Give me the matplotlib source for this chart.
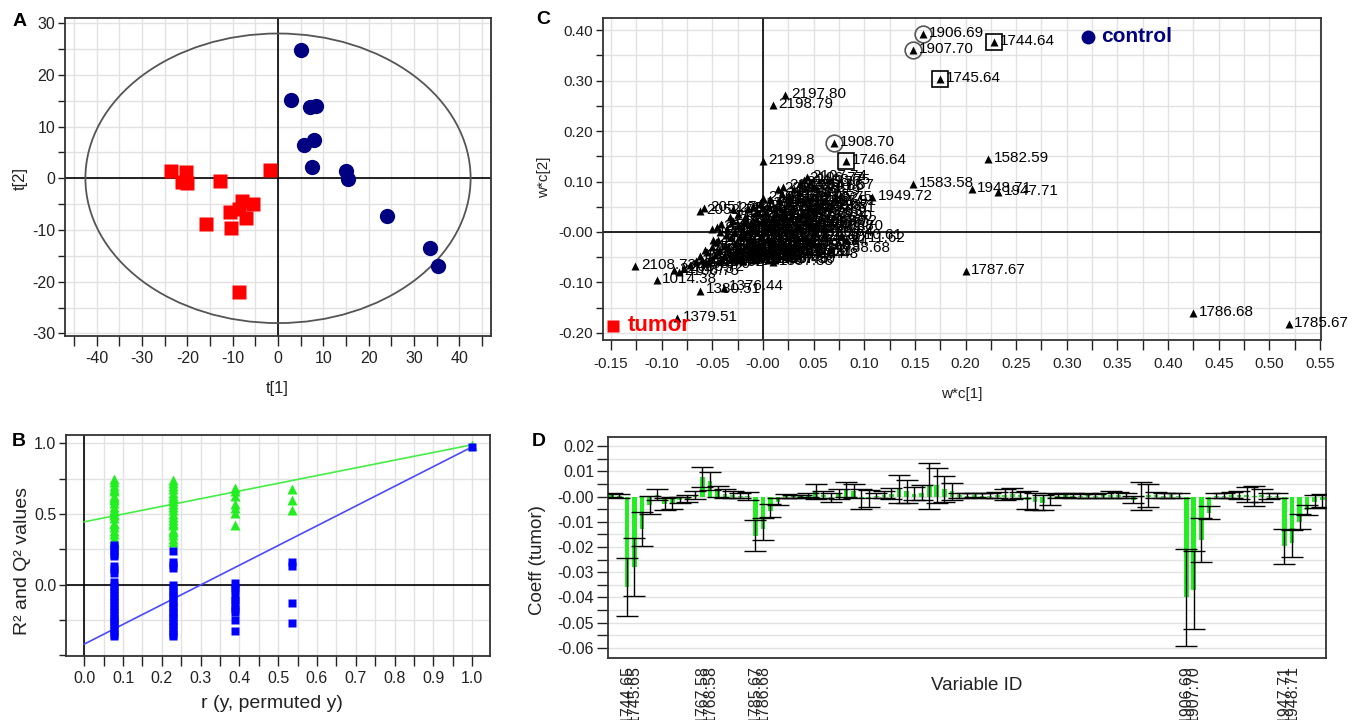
import numpy as np
import matplotlib.pyplot as plt
from matplotlib.patches import Ellipse
from matplotlib.ticker import MultipleLocator, FixedLocator, FuncFormatter

plt.rcParams['font.family'] = ['Liberation Sans', 'DejaVu Sans']
plt.rcParams['axes.unicode_minus'] = False

W, H = 1352, 720

# ---- A: PCA score plot
tumor_t1 = [-23.6, -20.2, -21.2, -20.0, -12.9, -1.8, -15.9, -10.3, -10.6, -7.9, -5.6, -7.1, -8.5, -8.5]
tumor_t2 = [1.4, 1.3, -0.8, -1.0, -0.5, 1.7, -8.8, -9.7, -6.5, -4.3, -5.0, -7.6, -5.9, -21.9]
control_t1 = [5.0, 2.9, 7.0, 8.4, 5.8, 7.9, 7.5, 15.1, 15.5, 24.1, 33.5, 35.4]
control_t2 = [24.8, 15.1, 13.7, 14.0, 6.5, 7.5, 2.2, 1.5, -0.1, -7.2, -13.4, -17.0]
hotelling_t1, hotelling_t2 = 42.5, 28.0

# ---- B: permutation test
perm_r = [0.077, 0.229, 0.388, 0.536, 1.0]
r2_groups = [
    [0.30, 0.31, 0.33, 0.36, 0.38, 0.41, 0.43, 0.44, 0.47, 0.49, 0.50, 0.52,
     0.53, 0.55, 0.58, 0.60, 0.61, 0.63, 0.66, 0.68, 0.70, 0.73, 0.75],
    [0.30, 0.32, 0.35, 0.37, 0.39, 0.42, 0.44, 0.46, 0.48, 0.50, 0.53, 0.55,
     0.57, 0.59, 0.61, 0.63, 0.65, 0.68, 0.70, 0.72, 0.74],
    [0.685, 0.66, 0.625, 0.57, 0.545, 0.51, 0.42],
    [0.675, 0.60, 0.53],
    [0.99],
]
q2_groups = [
    [0.28, 0.26, 0.24, 0.22, 0.20, 0.13, 0.11, 0.08, 0.02, -0.01, -0.03, -0.05,
     -0.08, -0.10, -0.12, -0.15, -0.17, -0.19, -0.22, -0.24, -0.26, -0.28, -0.30,
     -0.33, -0.35, -0.36],
    [0.24, 0.16, 0.14, 0.12, 0.00, -0.02, -0.05, -0.07, -0.09, -0.12, -0.14,
     -0.16, -0.19, -0.21, -0.23, -0.26, -0.28, -0.30, -0.33, -0.35, -0.36],
    [0.01, -0.02, -0.04, -0.09, -0.11, -0.14, -0.17, -0.19, -0.25, -0.33],
    [0.16, 0.13, -0.13, -0.27],
    [0.975],
]
r2_line = [0.445, 0.99]   # intercept at r=0, value at r=1
q2_line = [-0.42, 0.975]

# ---- C: loadings w*c
lab_names = ["1906.69", "1907.70", "1744.64", "1745.64", "1908.70", "1746.64",
             "2197.80", "2198.79", "2199.8", "1582.59", "1583.58", "1948.71",
             "1947.71", "1949.72", "1787.67", "1786.68", "1785.67", "1788.68",
             "2051.71", "2052.71", "2108.73", "1014.38", "1380.51", "1376.44",
             "1379.51"]
lab_x = [0.158, 0.148, 0.228, 0.175, 0.070, 0.082, 0.022, 0.010, 0.000, 0.222,
         0.148, 0.206, 0.232, 0.108, 0.200, 0.425, 0.519, 0.066, -0.058, -0.062,
         -0.126, -0.105, -0.062, -0.039, -0.085]
lab_y = [0.392, 0.360, 0.377, 0.303, 0.176, 0.140, 0.272, 0.252, 0.140, 0.145,
         0.095, 0.085, 0.080, 0.070, -0.077, -0.161, -0.183, -0.034, 0.047, 0.041,
         -0.068, -0.095, -0.116, -0.110, -0.171]
circled = ["1906.69", "1907.70", "1908.70"]
boxed = ["1744.64", "1745.64", "1746.64"]

cloud_x = [-0.088, -0.083, -0.078, -0.072, -0.066, -0.062, -0.058, -0.055, -0.052, -0.050,
           -0.047, -0.045, -0.044, -0.042, -0.040, -0.038, -0.036, -0.034, -0.032, -0.030,
           -0.028, -0.026, -0.024, -0.022, -0.020, -0.018, -0.016, -0.014, -0.012, -0.010,
           -0.008, -0.006, -0.004, -0.002, 0.000, 0.000, 0.002, 0.004, 0.006, 0.008,
           0.010, 0.012, 0.014, 0.016, 0.018, 0.020, 0.022, 0.024, 0.026, 0.028,
           0.030, 0.032, 0.034, 0.036, 0.038, 0.040, 0.042, 0.044, 0.046, 0.048,
           0.050, 0.052, 0.054, 0.045, 0.078, 0.082, -0.020, -0.010, 0.005, 0.015,
           0.025, 0.037, 0.040, 0.043, 0.046, -0.030, 0.010, -0.050, 0.060, 0.035,
           -0.046, -0.043, -0.041, -0.039, -0.037, -0.035, -0.033, -0.031, -0.029, -0.027,
           -0.025, -0.023, -0.021, -0.019, -0.017, -0.015, -0.013, -0.011, -0.009, -0.007,
           -0.005, -0.003, -0.001, 0.001, 0.003, 0.005, 0.007, 0.009, 0.011, 0.013,
           0.015, 0.017, 0.019, 0.021, 0.023, 0.025, 0.027, 0.029, 0.031, 0.033,
           0.035, 0.037, 0.039, 0.041, 0.043, 0.045, 0.047, 0.049, 0.051, 0.053,
           -0.060, -0.057, -0.054, -0.049, 0.000, 0.012, -0.024, 0.030, 0.020, 0.050]
cloud_y = [-0.075, -0.080, -0.072, -0.065, -0.058, -0.048, -0.062, -0.040, -0.052, -0.030,
           -0.045, 0.010, -0.015, 0.000, -0.055, -0.025, 0.005, -0.040, -0.010, 0.022,
           -0.050, -0.020, 0.012, -0.035, -0.005, 0.030, -0.045, -0.015, 0.018, -0.030,
           0.002, 0.040, -0.050, -0.012, 0.025, 0.068, -0.035, 0.008, 0.050, -0.022,
           0.030, -0.045, 0.000, 0.062, -0.012, 0.040, -0.030, 0.015, 0.072, -0.005,
           0.050, -0.020, 0.025, 0.080, 0.005, 0.060, -0.012, 0.035, 0.015, 0.068,
           -0.002, 0.045, 0.020, 0.052, -0.008, -0.015, -0.058, 0.052, -0.055, 0.085,
           -0.040, 0.097, 0.104, 0.108, 0.100, 0.045, -0.060, 0.005, 0.010, -0.045,
           -0.020, -0.035, 0.015, -0.048, -0.005, -0.030, 0.030, -0.052, 0.000, -0.038,
           0.035, -0.010, -0.048, 0.020, -0.025, 0.045, -0.040, 0.005, -0.055, 0.025,
           -0.025, 0.055, -0.040, 0.010, 0.040, -0.015, 0.065, -0.040, 0.015, 0.050,
           -0.025, 0.030, 0.075, -0.045, 0.005, 0.058, -0.028, 0.035, 0.085, 0.010,
           0.065, -0.030, 0.040, 0.088, 0.020, -0.020, 0.050, 0.030, 0.010, 0.060,
           -0.055, -0.035, -0.060, -0.015, -0.050, -0.055, -0.055, -0.040, 0.090, 0.090]
cloud_names = ["2104.73", "2106.75", "2056.72", "2058.70", "1112.37", "1126.41", "1204.52", "1218.55", "1232.47", "1290.60",
               "1304.58", "2003.71", "1342.49", "2006.72", "1360.55", "1400.63", "2020.70", "1414.58", "1428.61", "2034.73",
               "1456.52", "1470.66", "2045.69", "1484.61", "1498.57", "2064.70", "1512.63", "1526.60", "2078.75", "1540.58",
               "1554.66", "2302.74", "1568.49", "1596.55", "2301.73", "2300.72", "1610.62", "1624.59", "2122.76", "1638.53",
               "2136.71", "1652.60", "1666.57", "2150.74", "1680.64", "2164.77", "1694.58", "1708.61", "2178.75", "1722.55",
               "2185.78", "1736.60", "1750.66", "2190.79", "1764.63", "2104.74", "1778.60", "1792.62", "1806.70", "2105.75",
               "1820.64", "1834.61", "1848.72", "1862.67", "1710.61", "1711.62", "1376.48", "2310.76", "1290.46", "2288.73",
               "1402.50", "2105.76", "2106.77", "2107.74", "2108.75", "2054.71", "1357.38", "1918.68", "1932.70", "1414.48",
               "1105.39", "1119.42", "1133.45", "1147.40", "1161.43", "1175.46", "1189.44", "1203.47", "1217.50", "1231.48",
               "1245.51", "1259.54", "1273.49", "1287.52", "1301.55", "1315.53", "1329.56", "1343.59", "1357.57", "1371.60",
               "1385.63", "1399.61", "1413.64", "1427.67", "1441.65", "1455.68", "1469.71", "1483.66", "1497.69", "1511.72",
               "1525.70", "1539.73", "1553.76", "1567.74", "1581.77", "1595.80", "1609.75", "1623.78", "1637.81", "1651.79",
               "1665.82", "1679.85", "1693.83", "1707.86", "1721.89", "1735.84", "1749.87", "1763.90", "1777.88", "1791.91",
               "2007.40", "2021.43", "2035.46", "2049.44", "2063.47", "2077.50", "2091.48", "2119.51", "2133.54", "2147.57"]

# ---- D: PLS coefficients, tumor
coef = [0.0005, 0.0003, -0.0358, -0.0280, -0.0128, -0.0033, 0.0008, -0.0030, -0.0025, -0.0012,
        -0.0008, 0.0005, 0.0078, 0.0062, 0.0020, 0.0012, 0.0008, 0.0004, 0.0003, -0.0155,
        -0.0128, -0.0056, -0.0020, 0.0003, 0.0002, 0.0002, 0.0005, 0.0020, 0.0008, -0.0005,
        0.0010, 0.0028, 0.0022, -0.0010, -0.0008, 0.0003, 0.0008, 0.0012, 0.0030, 0.0020,
        0.0012, 0.0015, 0.0042, 0.0044, 0.0030, 0.0020, 0.0006, 0.0004, 0.0005, 0.0003,
        0.0004, 0.0006, 0.0008, 0.0012, 0.0005, -0.0015, -0.0020, -0.0025, -0.0010, 0.0003,
        0.0005, 0.0004, 0.0003, 0.0006, 0.0004, 0.0005, 0.0008, 0.0006, 0.0004, -0.0012,
        0.0003, 0.0005, 0.0005, 0.0004, 0.0006, 0.0003, -0.0400, -0.0370, -0.0173, -0.0064,
        0.0003, 0.0004, 0.0006, 0.0005, 0.0008, 0.0002, 0.0005, 0.0004, 0.0003, -0.0197,
        -0.0186, -0.0100, -0.0054, -0.0020, -0.0015]
coef_err = [0.0008, 0.0008, 0.0115, 0.0116, 0.0067, 0.0037, 0.0020, 0.0025, 0.0025, 0.0012,
            0.0015, 0.0015, 0.0040, 0.0035, 0.0020, 0.0018, 0.0012, 0.0010, 0.0015, 0.0062,
            0.0043, 0.0025, 0.0015, 0.0008, 0.0006, 0.0006, 0.0008, 0.0030, 0.0015, 0.0018,
            0.0020, 0.0030, 0.0028, 0.0040, 0.0035, 0.0010, 0.0015, 0.0022, 0.0055, 0.0045,
            0.0025, 0.0030, 0.0092, 0.0070, 0.0050, 0.0035, 0.0010, 0.0010, 0.0008, 0.0010,
            0.0010, 0.0012, 0.0020, 0.0020, 0.0012, 0.0035, 0.0035, 0.0030, 0.0025, 0.0008,
            0.0008, 0.0010, 0.0008, 0.0010, 0.0008, 0.0010, 0.0012, 0.0012, 0.0010, 0.0015,
            0.0055, 0.0045, 0.0012, 0.0010, 0.0010, 0.0010, 0.0194, 0.0155, 0.0087, 0.0026,
            0.0010, 0.0010, 0.0012, 0.0015, 0.0030, 0.0040, 0.0025, 0.0012, 0.0010, 0.0070,
            0.0053, 0.0030, 0.0020, 0.0025, 0.0025]
var_tick_idx = [2, 3, 12, 13, 19, 20, 76, 77, 89, 90]
var_tick_ids = ["1744.65", "1745.65", "1767.58", "1768.58", "1785.67", "1786.68",
                "1906.69", "1907.70", "1947.71", "1948.71"]

GRID = '#e2e2e2'
FRAME = '#333333'


def add_axes_px(fig, left, top, right, bottom):
    return fig.add_axes([left / W, 1 - bottom / H, (right - left) / W, (bottom - top) / H])


def style(ax):
    for s in ax.spines.values():
        s.set_linewidth(1.3)
        s.set_color(FRAME)
    ax.tick_params(which='both', direction='out', length=5, width=1, colors='#222222',
                   labelsize=11.5, pad=2)
    ax.set_axisbelow(True)


def fig_text(fig, x, y, s, **kw):
    fig.text(x / W, 1 - y / H, s, ha='center', va='center', color='#222222', **kw)


zero_fmt = FuncFormatter(lambda v, _: '-0.00' if abs(v) < 1e-9 else f'{v:.2f}')

fig = plt.figure(figsize=(W / 100, H / 100), dpi=100)

# ---------------- A
axA = add_axes_px(fig, 65, 18, 491, 336)
style(axA)
axA.set_xlim(-47, 47)
axA.set_ylim(-30.5, 31)
axA.xaxis.set_major_locator(MultipleLocator(10))
axA.xaxis.set_minor_locator(MultipleLocator(5))
axA.yaxis.set_major_locator(MultipleLocator(10))
axA.yaxis.set_minor_locator(MultipleLocator(5))
axA.tick_params(axis='x', which='both', length=7, pad=4)
axA.grid(True, which='both', color=GRID, lw=1)
axA.axhline(0, color='black', lw=1.2, zorder=1)
axA.axvline(0, color='black', lw=1.2, zorder=1)
axA.add_patch(Ellipse((0, 0), 2 * hotelling_t1, 2 * hotelling_t2, fill=False,
                      ec='#555555', lw=1.3, zorder=2))
axA.plot(tumor_t1, tumor_t2, 's', color='#ff0000', ms=10.5, mec='none', zorder=3)
axA.plot(control_t1, control_t2, 'o', color='#000080', ms=11, mec='none', zorder=3)
fig_text(fig, 277, 388, 't[1]', fontsize=12)
fig_text(fig, 20, 179, 't[2]', fontsize=12, rotation=90)
fig.text(13 / W, 1 - 22 / H, 'A', fontsize=14, fontweight='bold', va='center')

# ---------------- B
axB = add_axes_px(fig, 66, 435, 490, 656)
style(axB)
axB.set_xlim(-0.047, 1.046)
axB.set_ylim(-0.504, 1.059)
axB.xaxis.set_major_locator(MultipleLocator(0.1))
axB.xaxis.set_minor_locator(MultipleLocator(0.05))
axB.yaxis.set_major_locator(FixedLocator([0.0, 0.5, 1.0]))
axB.yaxis.set_minor_locator(MultipleLocator(0.25))
axB.xaxis.set_major_formatter(FuncFormatter(lambda v, _: f'{v:.1f}'))
axB.yaxis.set_major_formatter(FuncFormatter(lambda v, _: f'{v:.1f}'))
axB.tick_params(axis='x', which='both', length=7, pad=4)
axB.grid(True, which='both', color=GRID, lw=1)
axB.axhline(0, color='black', lw=1.2, zorder=1)
axB.axvline(0, color='black', lw=1.2, zorder=1)
axB.plot([0, 1], r2_line, color='#44ee44', lw=1.2, zorder=2)
axB.plot([0, 1], q2_line, color='#4a4aff', lw=1.2, zorder=2)
for r, vals in zip(perm_r, r2_groups):
    axB.plot(np.full(len(vals), r), vals, '^', color='#22ee22', ms=6.5, mec='none', zorder=3)
for r, vals in zip(perm_r, q2_groups):
    axB.plot(np.full(len(vals), r), vals, 's', color='#0000ff', ms=6, mec='none', zorder=3)
fig_text(fig, 272, 703, 'r (y, permuted y)', fontsize=14)
fig_text(fig, 23, 561, 'R² and Q² values', fontsize=14, rotation=90)
fig.text(12 / W, 1 - 441 / H, 'B', fontsize=14, fontweight='bold', va='center')

# ---------------- C
axC = add_axes_px(fig, 603, 18, 1321, 340)
style(axC)
axC.set_xlim(-0.158, 0.551)
axC.set_ylim(-0.214, 0.424)
axC.xaxis.set_major_locator(MultipleLocator(0.05))
axC.xaxis.set_minor_locator(MultipleLocator(0.025))
axC.yaxis.set_major_locator(MultipleLocator(0.1))
axC.yaxis.set_minor_locator(MultipleLocator(0.05))
axC.xaxis.set_major_formatter(zero_fmt)
axC.yaxis.set_major_formatter(zero_fmt)
axC.tick_params(axis='x', which='both', length=7, pad=5)
axC.tick_params(axis='x', labelsize=11)
axC.tick_params(axis='y', labelsize=11)
axC.grid(True, which='both', color=GRID, lw=1)
axC.axhline(0, color='black', lw=1.2, zorder=1)
axC.axvline(0, color='black', lw=1.2, zorder=1)

for x, y, name in zip(cloud_x + lab_x, cloud_y + lab_y, cloud_names + lab_names):
    axC.plot(x, y, '^', color='black', ms=5.5, mec='none', zorder=3)
    axC.annotate(name, (x, y), xytext=(4, 0.8), textcoords='offset points',
                 fontsize=11, va='center', ha='left', zorder=4, annotation_clip=False)
    if name in circled:
        axC.plot(x, y, 'o', mfc='none', mec='#555555', ms=12, mew=1.2, zorder=3)
    if name in boxed:
        axC.plot(x, y, 's', mfc='none', mec='black', ms=11, mew=1.2, zorder=3)

axC.plot([0.6755], [0.941], 'o', color='#000080', ms=10, mec='none', transform=axC.transAxes)
axC.text(0.694, 0.943, 'control', transform=axC.transAxes, color='#000080',
         fontsize=15, fontweight='bold', va='center', ha='left')
axC.plot([0.0139], [0.0435], 's', color='#ff0000', ms=9, mec='none', transform=axC.transAxes,
         zorder=5)
axC.text(0.034, 0.045, 'tumor', transform=axC.transAxes, color='#ff0000',
         fontsize=16, fontweight='bold', va='center', ha='left', zorder=5)
fig_text(fig, 962, 394, 'w*c[1]', fontsize=11)
fig_text(fig, 544, 177, 'w*c[2]', fontsize=11, rotation=90)
fig.text(536 / W, 1 - 20 / H, 'C', fontsize=14, fontweight='bold', va='center')

# ---------------- D
axD = add_axes_px(fig, 608, 437, 1326, 658)
style(axD)
idx = np.arange(len(coef))
axD.set_xlim(-0.5, len(coef) - 0.5)
axD.set_ylim(-0.064, 0.0236)
axD.yaxis.set_major_locator(MultipleLocator(0.01))
axD.yaxis.set_minor_locator(MultipleLocator(0.005))
axD.yaxis.set_major_formatter(zero_fmt)
axD.tick_params(axis='y', which='both', length=8)
axD.grid(True, axis='y', which='both', color=GRID, lw=1)
axD.bar(idx, coef, width=0.62, color='#22ee22', zorder=2)
axD.errorbar(idx, coef, yerr=coef_err, fmt='none', ecolor='black', elinewidth=1,
             capsize=8, capthick=1, zorder=3)
axD.set_xticks(var_tick_idx)
axD.set_xticklabels(var_tick_ids, rotation=90, fontsize=11.5, va='top')
axD.tick_params(axis='x', length=0, pad=5)
fig_text(fig, 977, 686, 'Variable ID', fontsize=13.5)
fig_text(fig, 538, 560, 'Coeff (tumor)', fontsize=13.5, rotation=90)
fig.text(532 / W, 1 - 441 / H, 'D', fontsize=14, fontweight='bold', va='center')

fig.savefig('out.png', dpi=100)
